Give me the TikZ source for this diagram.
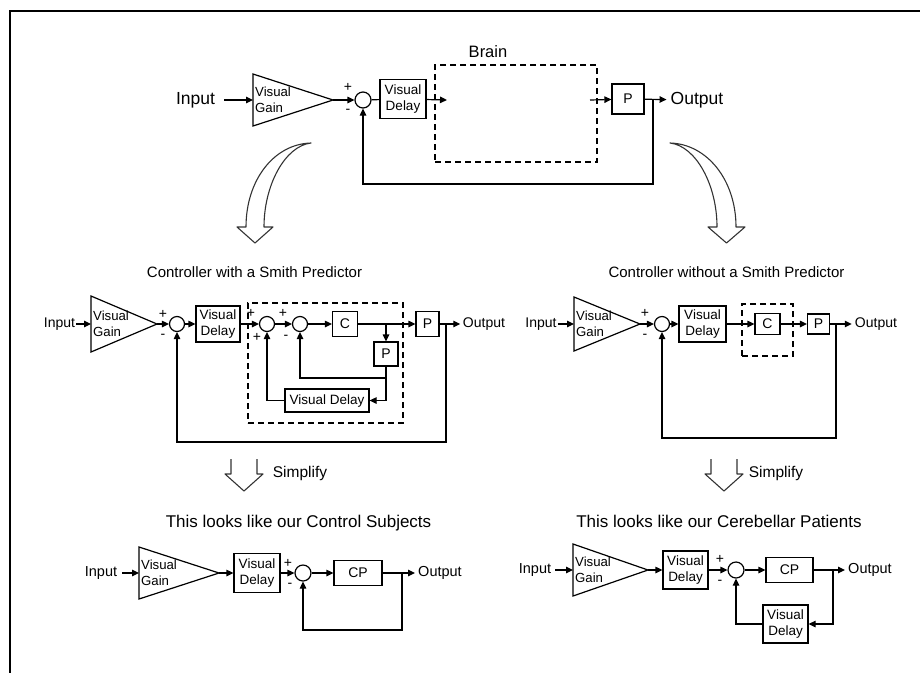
\documentclass[tikz,border=0pt]{standalone}
\usepackage{fontspec}
\setmainfont{Liberation Sans}
\usetikzlibrary{arrows.meta}

\newcommand{\setfs}[2]{\fontsize{#1}{#2}\selectfont}

% gain block: name, left x, top y, bottom y, apex x
\newcommand{\gaintri}[5]{%
  \draw[wire,line join=miter] (#2,#3) -- (#5,{(#3+#4)/2}) -- (#2,#4) -- cycle;
  \coordinate (#1-in) at (#2,{(#3+#4)/2});
  \coordinate (#1-out) at (#5,{(#3+#4)/2});
  \node[txt,anchor=west,align=left,font=\setfs{13.2}{16.5}] (#1) at ({#2+2},{(#3+#4)/2}) {Visual\\Gain};
}

\begin{document}
\begin{tikzpicture}[x=1pt,y=-1pt,
  wire/.style={line width=1.2pt},
  arr/.style={wire,-{Triangle[length=7pt,width=6.5pt]}},
  box/.style={draw,line width=1.2pt,inner sep=0pt,align=center,fill=white,font=\setfs{13.5}{16}},
  lettbox/.style={box,font=\setfs{14}{16}},
  sumnode/.style={circle,draw,line width=1.2pt,minimum size=15pt,inner sep=0pt},
  txt/.style={inner sep=0pt},
  sign/.style={inner sep=0pt,font=\setfs{14}{16}},
  dashbox/.style={draw,line width=1.2pt,dash pattern=on 6pt off 4pt,inner sep=0pt},
  hollow/.style={draw=black!80,line width=1.1pt,line join=round},
]
\useasboundingbox (0,0) rectangle (920,673);

% frame lines
\draw[line width=1.3pt] (920,11) -- (10,11) -- (10,673);

% ---------------- top loop ----------------
\node[txt,inner xsep=9pt,font=\setfs{17.5}{20}] (inT) at (195.5,100) {Input};
\gaintri{gT}{253}{74}{126}{333}
\node[sumnode,minimum size=16pt] (sT) at (363,100) {};
\node[sign] at (348,87) {+};
\node[sign] at (348,111) {-};
\node[box,minimum width=46pt,minimum height=39pt] (vdT) at (403,99) {Visual\\Delay};
\node[dashbox,minimum width=162pt,minimum height=97pt] (brain) at (516,113.5) {};
\node[txt,font=\setfs{16.5}{19}] (brainlbl) at (488,52) {Brain};
\coordinate (brIn) at (447,100);
\coordinate (brOut) at (590,100);
\node[lettbox,minimum width=32pt,minimum height=30pt] (pT) at (628,99) {P};
\node[txt,inner xsep=4pt,font=\setfs{17.5}{20}] (outT) at (697,100) {Output};
\coordinate (jT) at (653,100);
\coordinate (fbT) at (653,184);

\draw[arr] (inT) -- (gT-in);
\draw[arr] (gT-out) -- (sT);
\draw[wire] (sT) -- (vdT);
\draw[arr] (vdT) -- (brIn);
\draw[arr] (brOut) -- (pT);
\draw[arr] (pT) -- (outT);
\draw[arr] (jT) -- (fbT) -| (sT.south);

% curved hollow arrows
\draw[hollow] (311,143) .. controls (274,144) and (246,180) .. (246,227)
  -- (237,227) -- (255,243) -- (273,227) -- (264,227)
  .. controls (264,185) and (285,146) .. (311,143) -- cycle;
\draw[hollow] (670,143) .. controls (707,144) and (736,180) .. (736,227)
  -- (745,227) -- (726.5,243) -- (708,227) -- (717,227)
  .. controls (717,185) and (696,146) .. (670,143) -- cycle;

% ---------------- titles ----------------
\node[txt,font=\setfs{15}{18}] (t1) at (254.5,272) {Controller with a Smith Predictor};
\node[txt,font=\setfs{15}{18}] (t2) at (726.5,272) {Controller without a Smith Predictor};

% ---------------- middle left: with Smith predictor ----------------
\node[txt,inner xsep=1pt,font=\setfs{14}{16}] (inL) at (59.5,324) {Input};
\gaintri{gL}{91}{296}{352}{157}
\node[sumnode] (s1L) at (177,324) {};
\node[sign] at (163,314) {+};
\node[sign] at (163,336) {-};
\node[box,minimum width=44pt,minimum height=36pt] (vdL) at (218,324) {Visual\\Delay};
\node[dashbox,minimum width=155pt,minimum height=120pt] (ctrlL) at (325.5,363) {};
\node[sumnode] (s2L) at (267,324) {};
\node[sign] at (251,313) {+};
\node[sign] at (257,337) {+};
\node[sumnode] (s3L) at (300,324) {};
\node[sign] at (283,313) {+};
\node[sign] at (286,337) {-};
\node[lettbox,minimum width=25pt,minimum height=25pt] (cL) at (345,324) {C};
\node[lettbox,minimum width=23pt,minimum height=25pt] (pL) at (427.5,324) {P};
\node[lettbox,minimum width=24pt,minimum height=24pt] (pmL) at (386,354) {P};
\node[box,minimum width=84pt,minimum height=23pt] (vdmL) at (327,400.5) {Visual Delay};
\node[txt,inner xsep=2.5pt,font=\setfs{14}{16}] (outL) at (484,324) {Output};
\coordinate (jL) at (386,324);
\coordinate (kL) at (386,378);
\coordinate (jL2) at (446,324);
\coordinate (fbL) at (446,442);

\draw[arr] (inL) -- (gL-in);
\draw[arr] (gL-out) -- (s1L);
\draw[arr] (s1L) -- (vdL);
\draw[arr] (vdL) -- (s2L);
\draw[arr] (s2L) -- (s3L);
\draw[arr] (s3L) -- (cL);
\draw[arr] (cL) -- (pL);
\draw[arr] (jL) -- (pmL);
\draw[wire] (pmL) -- (kL);
\draw[arr] (kL) -| (s3L.south);
\draw[arr] (kL) |- (vdmL);
\draw[arr] (vdmL) -| (s2L.south);
\draw[arr] (pL) -- (outL);
\draw[arr] (jL2) -- (fbL) -| (s1L.south);

% ---------------- middle right: without Smith predictor ----------------
\node[txt,inner xsep=1pt,font=\setfs{14}{16}] (inR) at (541,324) {Input};
\gaintri{gR}{574}{297}{351}{640}
\node[sumnode] (s1R) at (662,324) {};
\node[sign] at (645,313) {+};
\node[sign] at (645,336) {-};
\node[box,minimum width=47pt,minimum height=36pt] (vdR) at (702.5,324) {Visual\\Delay};
\node[dashbox,minimum width=51pt,minimum height=52pt] (ctrlR) at (767.5,330) {};
\node[lettbox,minimum width=25pt,minimum height=21pt] (cR) at (767.5,324) {C};
\node[lettbox,minimum width=22pt,minimum height=20pt] (pR) at (818.5,324) {P};
\node[txt,inner xsep=3pt,font=\setfs{14}{16}] (outR) at (876,324) {Output};
\coordinate (jR) at (836,324);
\coordinate (fbR) at (836,438);

\draw[arr] (inR) -- (gR-in);
\draw[arr] (gR-out) -- (s1R);
\draw[arr] (s1R) -- (vdR);
\draw[arr] (vdR) -- (cR);
\draw[arr] (cR) -- (pR);
\draw[arr] (pR) -- (outR);
\draw[arr] (jR) -- (fbR) -| (s1R.south);

% ---------------- simplify arrows ----------------
\draw[hollow] (231,459) -- (231,474) -- (225,474) -- (244,491) -- (263,474) -- (257,474) -- (257,459);
\node[txt,font=\setfs{15.5}{18}] (simpL) at (300,473) {Simplify};
\draw[hollow] (711,459) -- (711,474) -- (705,474) -- (724,491) -- (743,474) -- (737,474) -- (737,459);
\node[txt,font=\setfs{15.5}{18}] (simpR) at (776,473) {Simplify};

\node[txt,font=\setfs{17}{20},anchor=base] (t3) at (298.5,527) {This looks like our Control Subjects};
\node[txt,font=\setfs{17}{20},anchor=base] (t4) at (719,527) {This looks like our Cerebellar Patients};

% ---------------- bottom left: control subjects ----------------
\node[txt,inner xsep=5pt,font=\setfs{14.5}{17}] (inBL) at (101,573) {Input};
\gaintri{gBL}{139}{547}{599}{219}
\node[box,minimum width=46pt,minimum height=39pt] (vdBL) at (257,573) {Visual\\Delay};
\node[sign] at (288,563) {+};
\node[sign] at (290,585) {-};
\node[sumnode,minimum size=16pt] (sBL) at (303,573) {};
\node[lettbox,minimum width=48pt,minimum height=25pt] (cpBL) at (358,573) {CP};
\node[txt,inner xsep=3pt,font=\setfs{14.5}{17}] (outBL) at (440,573) {Output};
\coordinate (jBL) at (402,573);
\coordinate (fbBL) at (402,630);

\draw[arr] (inBL) -- (gBL-in);
\draw[arr] (gBL-out) -- (vdBL);
\draw[arr] (vdBL) -- (sBL);
\draw[arr] (sBL) -- (cpBL);
\draw[arr] (cpBL) -- (outBL);
\draw[arr] (jBL) -- (fbBL) -| (sBL.south);

% ---------------- bottom right: cerebellar patients ----------------
\node[txt,inner xsep=4pt,font=\setfs{14.5}{17}] (inBR) at (535,570) {Input};
\gaintri{gBR}{573}{544}{596}{648}
\node[box,minimum width=45pt,minimum height=38pt] (vdBR) at (685.5,570) {Visual\\Delay};
\node[sign] at (720,559) {+};
\node[sign] at (720,582) {-};
\node[sumnode,minimum size=16pt] (sBR) at (736,570) {};
\node[lettbox,minimum width=47pt,minimum height=25pt] (cpBR) at (789.5,570) {CP};
\node[txt,inner xsep=3pt,font=\setfs{14.5}{17}] (outBR) at (870,570) {Output};
\coordinate (jBR) at (833,570);
\node[box,minimum width=45pt,minimum height=38pt] (vdfBR) at (785.5,624) {Visual\\Delay};

\draw[arr] (inBR) -- (gBR-in);
\draw[arr] (gBR-out) -- (vdBR);
\draw[arr] (vdBR) -- (sBR);
\draw[arr] (sBR) -- (cpBR);
\draw[arr] (cpBR) -- (outBR);
\draw[arr] (jBR) |- (vdfBR);
\draw[arr] (vdfBR) -| (sBR.south);

\end{tikzpicture}
\end{document}
